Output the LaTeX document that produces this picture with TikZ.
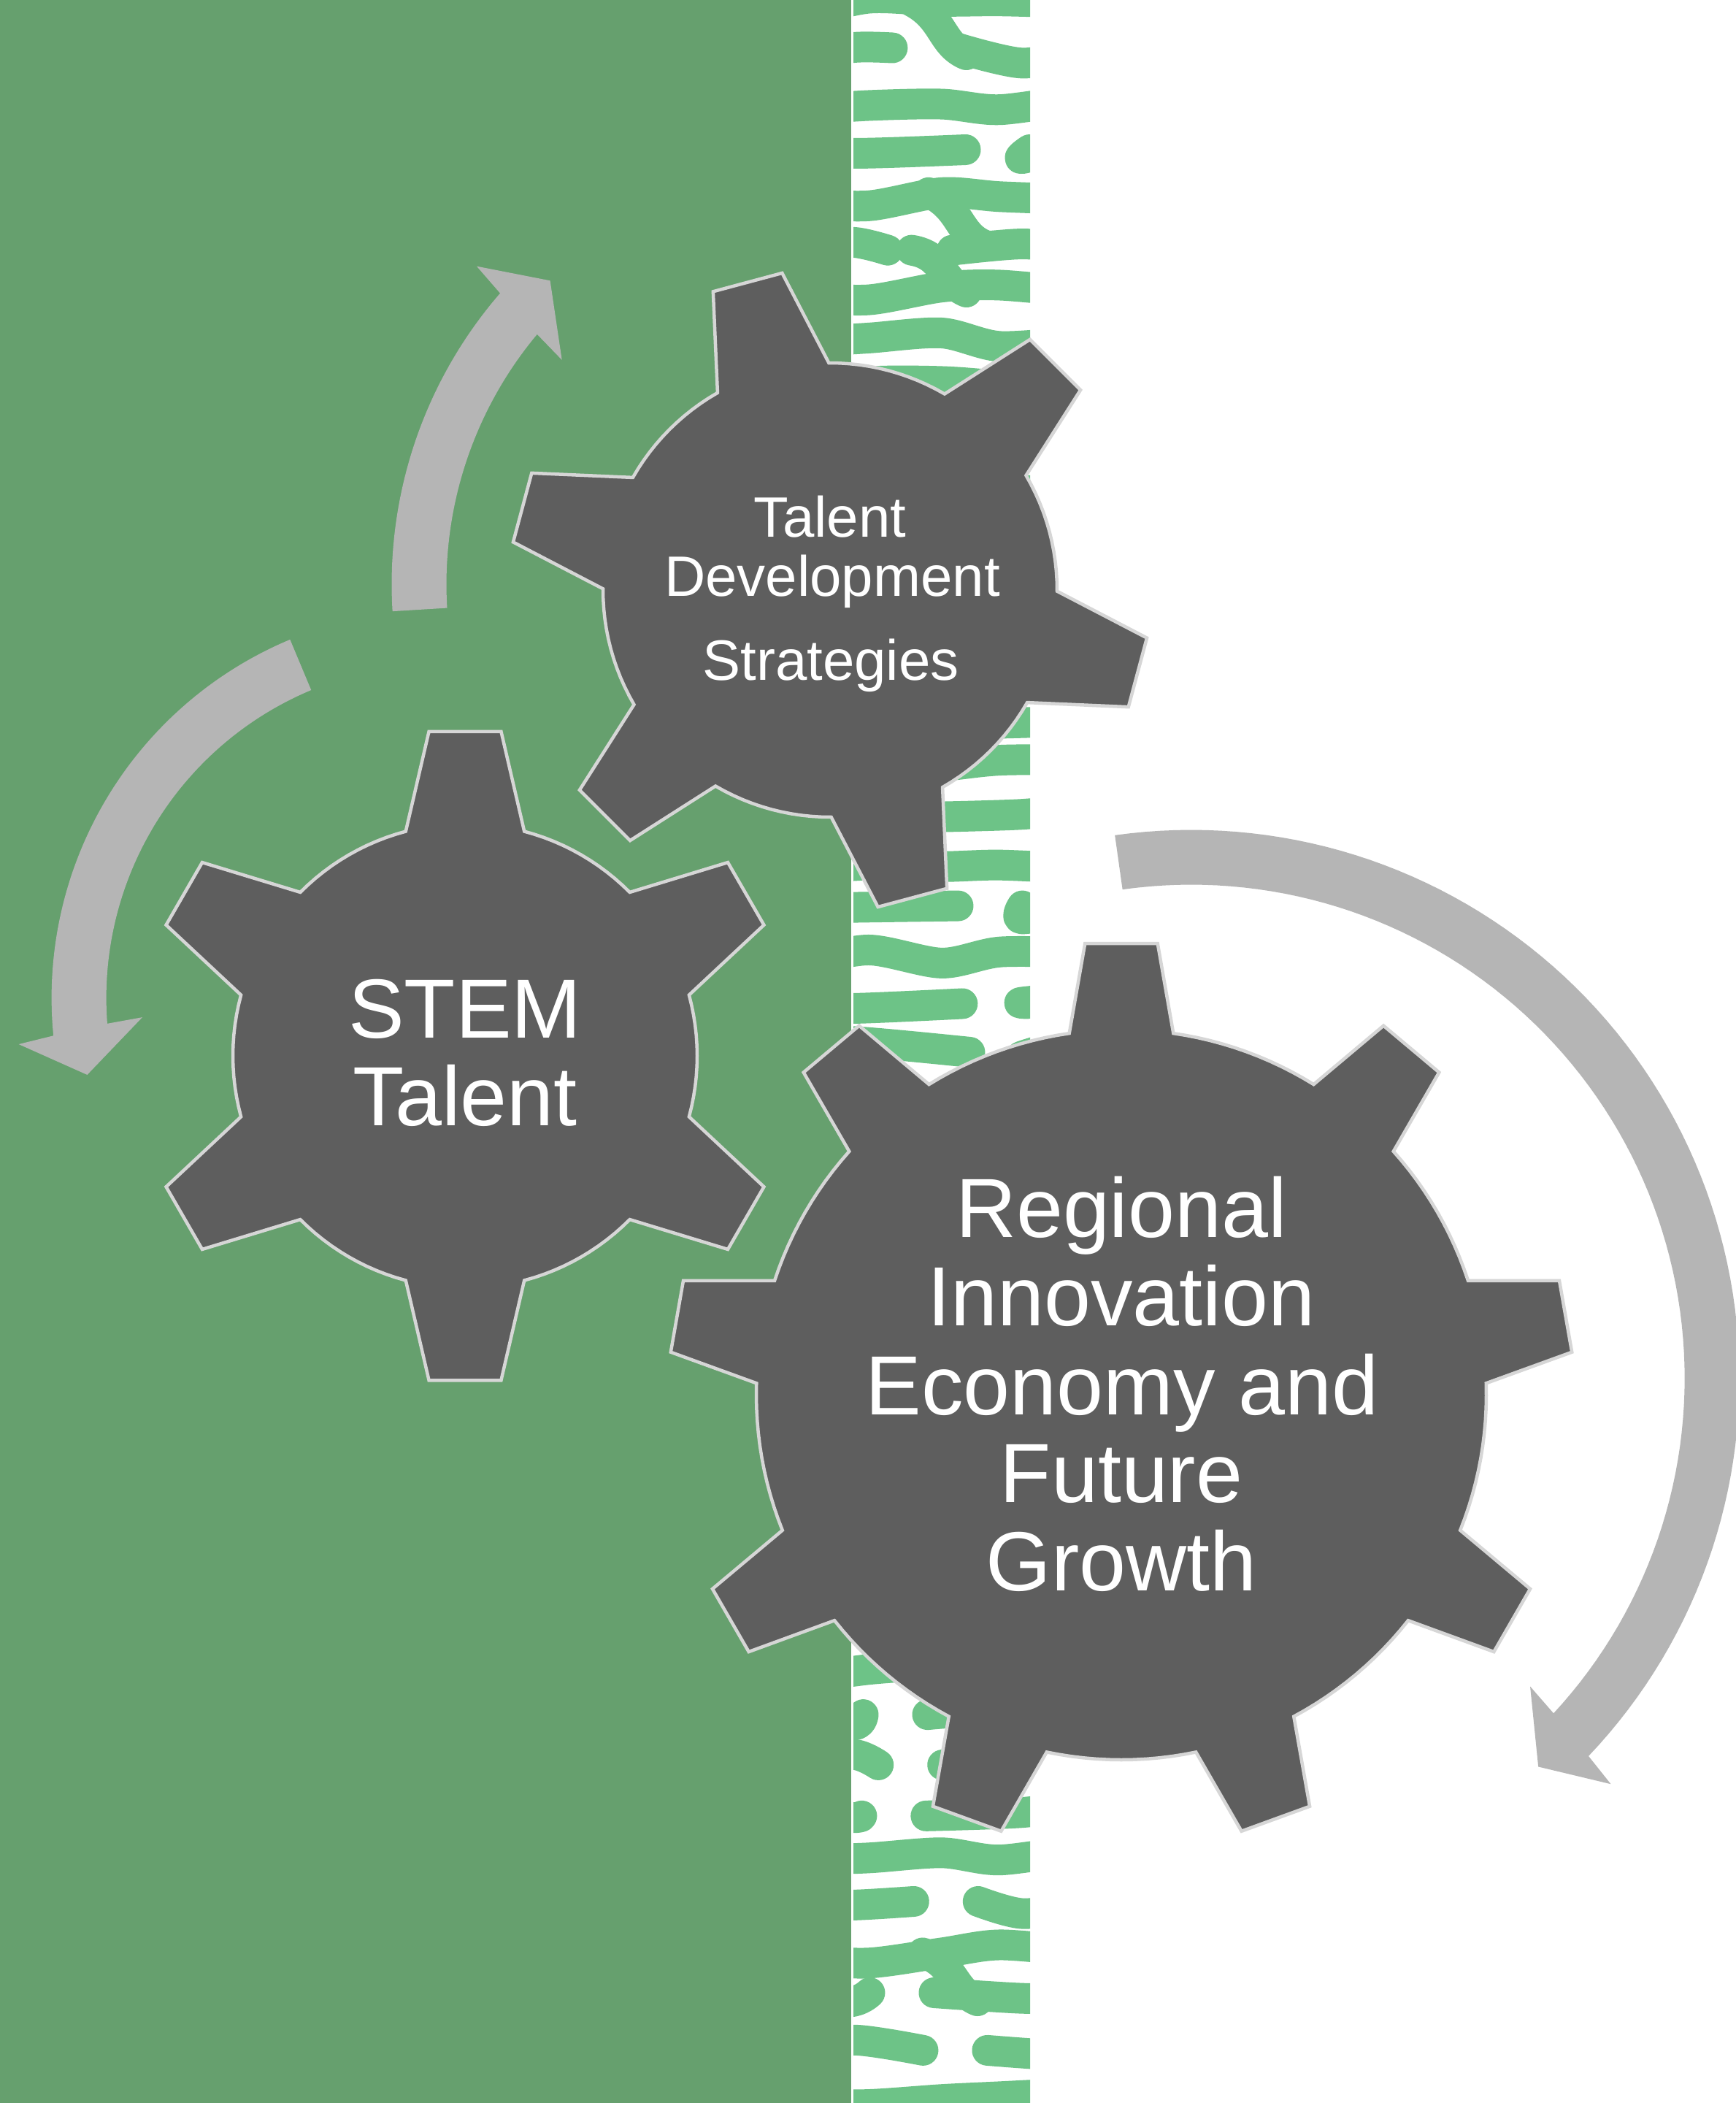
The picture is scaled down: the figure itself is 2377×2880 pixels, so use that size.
\documentclass[tikz,border=0pt]{standalone}
\usepackage{fontspec}
\setmainfont{Liberation Sans}
\definecolor{bggreen}{HTML}{66A06E}
\definecolor{patgreen}{HTML}{6DC387}
\definecolor{gearfill}{HTML}{5E5E5E}
\definecolor{gearline}{HTML}{D6D6D6}
\definecolor{arrowgray}{HTML}{B5B5B5}

% gear: #1 cx, #2 cy, #3 body radius, #4 tip radius, #5 teeth, #6 first tooth angle, #7 base half angle, #8 tip half angle
\newcommand\drawgear[8]{%
  \pgfmathsetmacro\gstep{360/#5}%
  \pgfmathtruncatemacro\glast{#5-1}%
  \pgfmathsetmacro\garc{(\gstep-2*#7)/12}%
  \begin{scope}[shift={(#1,#2)}]
    \draw[gearshape] ({#6-#7}:#3) -- ({#6-#8}:#4) -- ({#6+#8}:#4) -- ({#6+#7}:#3)
      \foreach \j in {1,...,11}{ -- ({#6+#7+\j*\garc}:#3) }
      \foreach \k in {1,...,\glast}{
        -- ({#6+\k*\gstep-#7}:#3) -- ({#6+\k*\gstep-#8}:#4)
        -- ({#6+\k*\gstep+#8}:#4) -- ({#6+\k*\gstep+#7}:#3)
        \foreach \j in {1,...,11}{ -- ({#6+\k*\gstep+#7+\j*\garc}:#3) } } -- cycle;
  \end{scope}}

% circular block arrow: #1 cx, #2 cy, #3 mid radius, #4 tail angle, #5 head base angle, #6 direction (+1/-1)
\newcommand\circarrow[6]{%
  \pgfmathsetmacro\aro{#3+37.5}\pgfmathsetmacro\ari{#3-37.5}%
  \pgfmathsetmacro\arbo{#3+86}\pgfmathsetmacro\arbi{#3-86}%
  \pgfmathsetmacro\aao{#5+#6*5/#3*180/pi}\pgfmathsetmacro\aai{#5-#6*5/#3*180/pi}%
  \pgfmathsetmacro\abo{#5+#6*11/#3*180/pi}\pgfmathsetmacro\abi{#5-#6*11/#3*180/pi}%
  \pgfmathsetmacro\aat{#5+#6*63/#3*180/pi}%
  \fill[arrowshape] plot[domain=#4:\aao,samples=90] ({#1+\aro*cos(\x)},{#2+\aro*sin(\x)})
    -- ({#1+\arbo*cos(\abo)},{#2+\arbo*sin(\abo)})
    -- ({#1+#3*cos(\aat)},{#2+#3*sin(\aat)})
    -- ({#1+\arbi*cos(\abi)},{#2+\arbi*sin(\abi)})
    -- plot[domain=\aai:#4,samples=90] ({#1+\ari*cos(\x)},{#2+\ari*sin(\x)}) -- cycle;}

\newcommand\fbig{\fontsize{115}{121}\selectfont}
\newcommand\fmid{\fontsize{78}{82}\selectfont}

\begin{document}
\begin{tikzpicture}[x=1pt,y=-1pt,
  gearshape/.style={fill=gearfill,draw=gearline,line width=4.5pt,line join=miter},
  arrowshape/.style={fill=arrowgray},
  patstroke/.style={draw=patgreen,line width=42pt,line cap=round,line join=round},
  lbl/.style={text=white,inner sep=0pt,anchor=base}]

\useasboundingbox (0,0) rectangle (2377,2880);
\fill[white] (0,0) rectangle (2377,2880);
\fill[bggreen] (0,0) rectangle (1166,2880);

% patterned strip (labyrinth-like bands)
\begin{scope}
  \clip (1169,0) rectangle (1411,2880);
  \pgfmathsetseed{31}
  \foreach \i in {0,...,45}{
    \pgfmathsetmacro\yy{10+\i*65}
    \pgfmathsetmacro\ya{\yy+14*rand}
    \pgfmathsetmacro\yb{\yy+14*rand}
    \pgfmathsetmacro\yc{\yy+14*rand}
    \pgfmathsetmacro\yd{\yy+14*rand}
    \pgfmathsetmacro\ye{\yy+14*rand}
    \pgfmathsetmacro\xg{1215+165*rnd}
    \pgfmathsetmacro\br{rnd}
    \pgfmathsetmacro\bx{1190+150*rnd}
    \pgfmathsetmacro\bs{rnd}
    \ifdim\br pt<0.45pt
      \draw[patstroke] plot[smooth] coordinates {(1100,\ya) (1190,\yb) (1290,\yc) (1370,\yd) (1480,\ye)};
    \else
      \draw[patstroke] plot[smooth] coordinates {(1100,\ya) (1170,\yb) ({\xg-44},\yc)};
      \draw[patstroke] plot[smooth] coordinates {({\xg+44},\yc) (1400,\yd) (1480,\ye)};
    \fi
    \ifdim\bs pt<0.18pt
      \draw[patstroke] (\bx,\yc) .. controls ({\bx+45},{\yy+15}) and ({\bx+40},{\yy+50}) .. ({\bx+75},{\yy+65});
    \fi
  }
\end{scope}

% arrows
\circarrow{1145}{800}{571}{176.5}{220.4}{1}
\circarrow{602.6}{1366.6}{494.5}{247.3}{175}{-1}
\circarrow{1631.7}{1887.5}{713.5}{-98}{43.15}{1}

% gears
\drawgear{637}{1446}{318}{447}{6}{-90}{14.8}{6.35}
\drawgear{1137}{808}{311}{439}{6}{-105}{14.7}{6.4}
\drawgear{1536}{1910}{500}{620}{9}{-90}{8.2}{4.6}

% texts
\node[lbl,font=\fbig] (stem1) at (637,1421.8) {STEM};
\node[lbl,font=\fbig] (stem2) at (637,1541.8) {Talent};

\node[lbl,font=\fmid] (tds1) at (1137,735) {Talent};
\node[lbl,font=\fmid] (tds2) at (1140,816) {Development};
\node[lbl,font=\fmid] (tds3) at (1138,931) {Strategies};

\node[lbl,font=\fbig] (rie1) at (1536,1694.7) {Regional};
\node[lbl,font=\fbig] (rie2) at (1536,1815.9) {Innovation};
\node[lbl,font=\fbig] (rie3) at (1537,1937.9) {Economy and};
\node[lbl,font=\fbig] (rie4) at (1536,2057.5) {Future};
\node[lbl,font=\fbig] (rie5) at (1536,2178.7) {Growth};
\end{tikzpicture}
\end{document}
